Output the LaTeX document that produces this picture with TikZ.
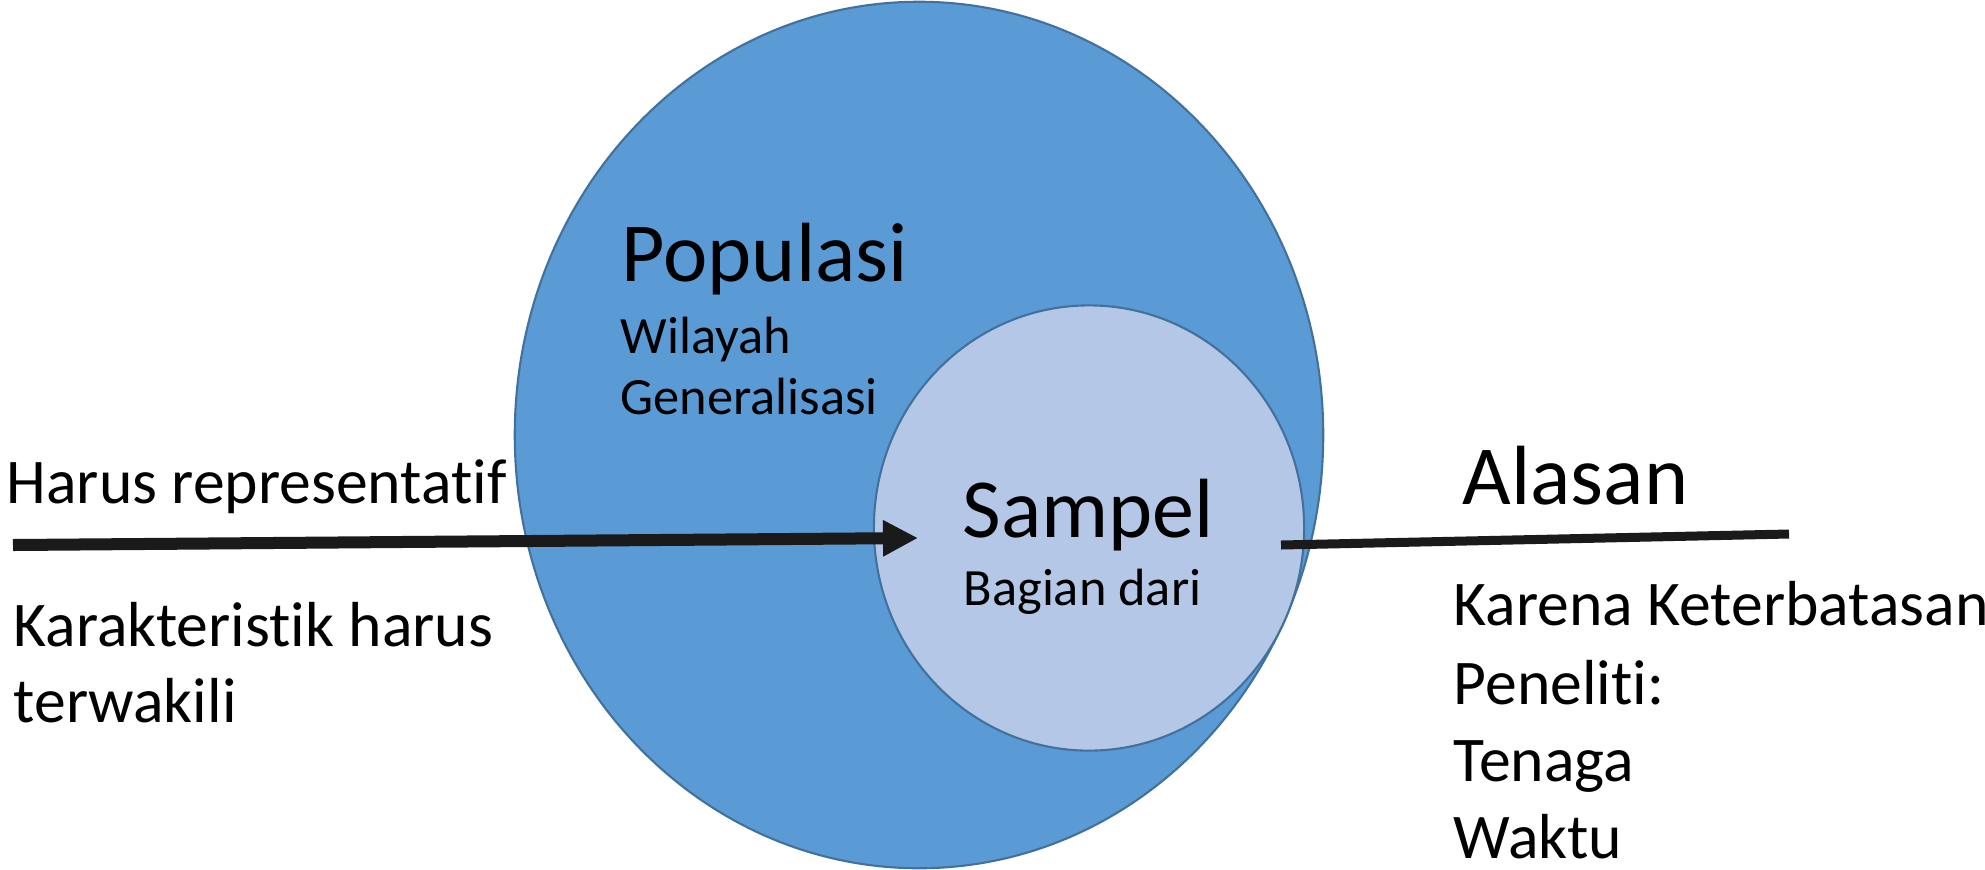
\documentclass[tikz,border=0pt]{standalone}
\usepackage{fontspec}
\setmainfont{Carlito}[Ligatures={NoCommon,NoContextual}]
\usetikzlibrary{arrows.meta,shapes.geometric}
\definecolor{popblue}{HTML}{5B9BD5}
\definecolor{sampblue}{HTML}{B4C7E7}
\definecolor{rimblue}{HTML}{41719C}
\definecolor{inkline}{HTML}{1A1A1A}
\tikzset{
  bigtext/.style={anchor=base west,inner sep=0pt,font=\fontsize{23.9}{28}\selectfont},
  midtext/.style={anchor=base west,inner sep=0pt,font=\fontsize{18.1}{22}\selectfont},
  smalltext/.style={anchor=base west,inner sep=0pt,font=\fontsize{14.9}{18}\selectfont},
  area/.style={ellipse,draw=rimblue,line width=0.6pt,inner sep=0pt}
}
\begin{document}
\begin{tikzpicture}[x=0.01cm,y=-0.01cm]
\useasboundingbox(0,0)rectangle(1985,869);
\node[area,fill=popblue,minimum width=8.08cm,minimum height=8.66cm](populasiarea)at(919,435){};
\node[area,fill=sampblue,minimum width=4.30cm,minimum height=4.45cm](sampelarea)at(1089,528){};
% teks di dalam lingkaran
\node[bigtext](populasi)at(621,281){Populasi};
\node[smalltext](wilayah)at(620,353){Wilayah};
\node[smalltext](generalisasi)at(620,414){Generalisasi};
\node[bigtext](sampel)at(962,537){Sampel};
\node[smalltext](bagian)at(963,605){Bagian dari};
% teks kiri
\node[midtext](harus)at(6,503){Harus representatif};
\node[midtext](karakteristik)at(13,646){Karakteristik harus};
\node[midtext](terwakili)at(13,722){terwakili};
% teks kanan
\node[bigtext](alasan)at(1462,504){Alasan};
\node[midtext](karena)at(1453,625){Karena Keterbatasan};
\node[midtext](peneliti)at(1453,704){Peneliti:};
\node[midtext](tenaga)at(1453,781){Tenaga};
\node[midtext](waktu)at(1453,858){Waktu};
% garis
\coordinate(arrowstart)at(13,545);
\coordinate(arrowtip)at(918,538);
\coordinate(alasanstart)at(1281,545);
\coordinate(alasanend)at(1789,534);
\draw[inkline,line width=0.12cm,-{Triangle[length=0.35cm,width=0.34cm]}](arrowstart)--(arrowtip);
\draw[inkline,line width=0.09cm](alasanstart)--(alasanend);
\end{tikzpicture}
\end{document}
